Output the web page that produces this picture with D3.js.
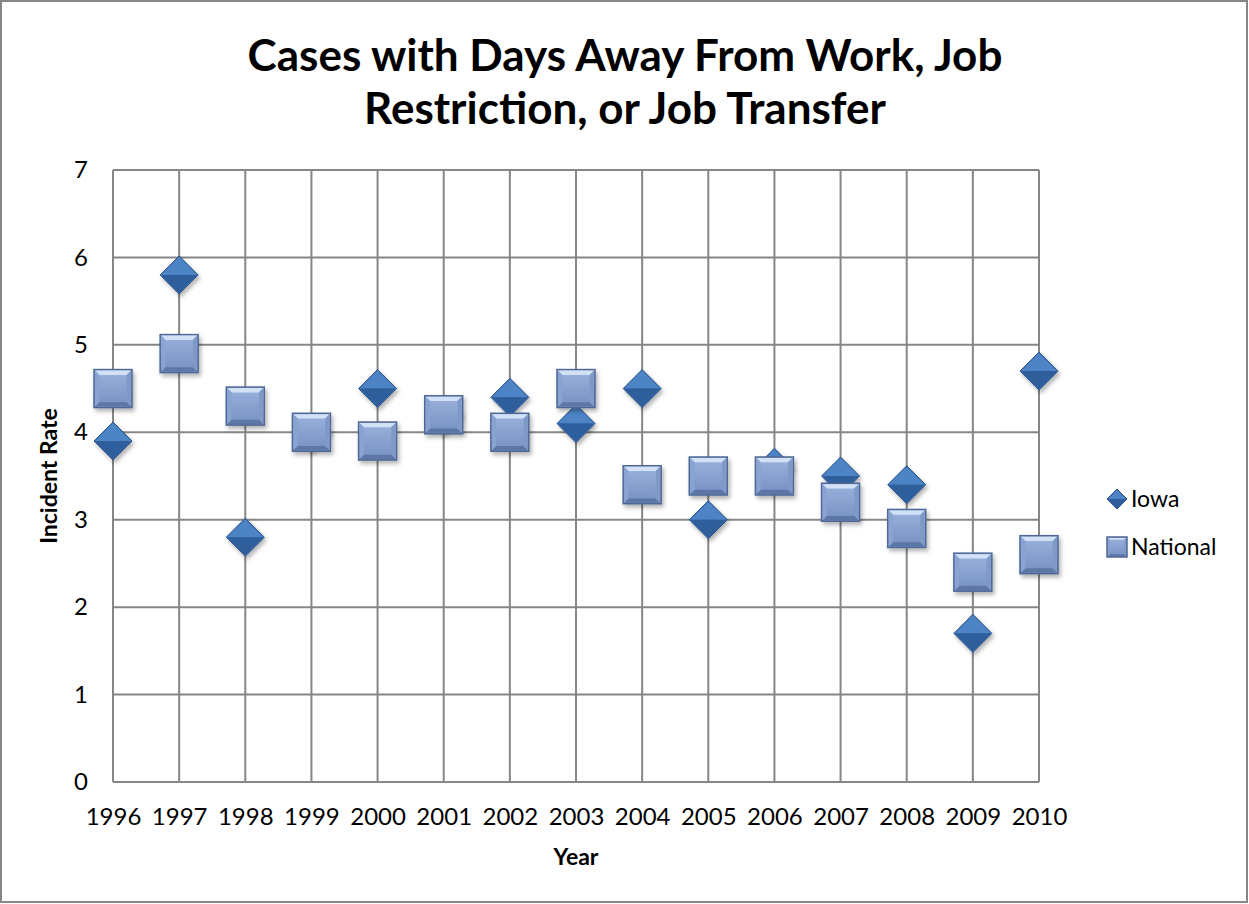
<!DOCTYPE html>
<html><head><meta charset="utf-8">
<script src="https://cdn.jsdelivr.net/npm/d3@7"></script>
<style>body{margin:0;background:#fff}svg{display:block}text{font-family:Lato,"Open Sans",sans-serif}</style>
</head><body>
<script>
const years = [1996,1997,1998,1999,2000,2001,2002,2003,2004,2005,2006,2007,2008,2009,2010];
const iowa = [3.9,5.8,2.8,4.0,4.5,4.2,4.4,4.1,4.5,3.0,3.6,3.5,3.4,1.7,4.7];
const national = [4.5,4.9,4.3,4.0,3.9,4.2,4.0,4.5,3.4,3.5,3.5,3.2,2.9,2.4,2.6];
const yTicks = [0,1,2,3,4,5,6,7];
const titleLines = ["Cases with Days Away From Work, Job","Restriction, or Job Transfer"];

const W=1249,H=904;
const svg=d3.select("body").append("svg").attr("width",W).attr("height",H);
const defs=svg.append("defs");
const f=defs.append("filter").attr("id","sh").attr("x","-30%").attr("y","-30%").attr("width","160%").attr("height","160%");
f.append("feDropShadow").attr("dx",2).attr("dy",3).attr("stdDeviation",2).attr("flood-color","#000").attr("flood-opacity",0.3);
const gs=defs.append("linearGradient").attr("id","sqg").attr("x1",0).attr("y1",0).attr("x2",0).attr("y2",1);
gs.append("stop").attr("offset","0").attr("stop-color","#9bb3dc");
gs.append("stop").attr("offset","1").attr("stop-color","#7590c2");

svg.append("rect").attr("x",1).attr("y",1).attr("width",W-3).attr("height",H-3).attr("fill","#fff").attr("stroke","#868686").attr("stroke-width",2);

const x=d3.scalePoint().domain(years).range([113,1039]);
const y=d3.scaleLinear().domain([0,7]).range([782,170]);

// grid
const g=svg.append("g");
g.selectAll("line.h").data(yTicks).join("line").attr("x1",113).attr("x2",1039).attr("y1",d=>y(d)).attr("y2",d=>y(d)).attr("stroke","#868686").attr("stroke-width",2);
g.selectAll("line.v").data(years).join("line").attr("x1",d=>x(d)).attr("x2",d=>x(d)).attr("y1",y(7)).attr("y2",y(0)).attr("stroke","#868686").attr("stroke-width",2);

// axes via d3
const ya=svg.append("g").attr("transform","translate(113,0)").call(d3.axisLeft(y).tickValues(yTicks).tickSize(0).tickPadding(25).tickFormat(d3.format("d")));
ya.select(".domain").remove();
ya.selectAll("text").attr("font-size",24).attr("font-family","Lato").attr("fill","#000");
const xa=svg.append("g").attr("transform","translate(0,782)").call(d3.axisBottom(x).tickSize(0).tickPadding(26).tickFormat(d3.format("d")));
xa.select(".domain").remove();
xa.selectAll("text").attr("font-size",24).attr("font-family","Lato").attr("fill","#000");

// titles
svg.append("g").selectAll("text").data(titleLines).join("text").attr("x",625).attr("y",(d,i)=>71+i*53).attr("text-anchor","middle").attr("font-weight","bold").attr("font-size",44).text(d=>d);
svg.append("text").attr("x",576).attr("y",865).attr("text-anchor","middle").attr("font-weight","bold").attr("font-size",23).text("Year");
svg.append("text").attr("transform","translate(57,476) rotate(-90)").attr("text-anchor","middle").attr("font-weight","bold").attr("font-size",23).text("Incident Rate");

function diamond(sel,s){
  sel.append("path").attr("d",`M0,${-s}L${s},0L0,${s}L${-s},0Z`).attr("fill","#3b6fb0").attr("stroke","#2a5288").attr("stroke-width",1);
  sel.append("path").attr("d",`M${-s+1},0L0,${-s+1}L${s-1},0Z`).attr("fill","#4d84c6");
  sel.append("path").attr("d",`M${-s+1},0L0,${s-1}L${s-1},0Z`).attr("fill","#2e5e9c");
}
function square(sel,s){
  const b=s*0.28;
  sel.append("rect").attr("x",-s).attr("y",-s).attr("width",2*s).attr("height",2*s).attr("fill","url(#sqg)").attr("stroke","#4d6794").attr("stroke-width",1.5);
  sel.append("path").attr("d",`M${-s+1},${-s+1}L${s-1},${-s+1}L${s-b},${-s+b}L${-s+b},${-s+b}Z`).attr("fill","#d2e1f5");
  sel.append("path").attr("d",`M${-s+1},${s-1}L${s-1},${s-1}L${s-b},${s-b}L${-s+b},${s-b}Z`).attr("fill","#5c76a6");
  sel.append("path").attr("d",`M${-s+1},${-s+1}L${-s+b},${-s+b}L${-s+b},${s-b}L${-s+1},${s-1}Z`).attr("fill","#89a3d2");
  sel.append("path").attr("d",`M${s-1},${-s+1}L${s-b},${-s+b}L${s-b},${s-b}L${s-1},${s-1}Z`).attr("fill","#7f99c8");
}

const di=svg.append("g").selectAll("g").data(years.map((yr,i)=>({yr,v:iowa[i]}))).join("g")
  .attr("transform",d=>`translate(${x(d.yr)},${y(d.v)})`).attr("filter","url(#sh)");
di.each(function(){diamond(d3.select(this),19);});
const sq=svg.append("g").selectAll("g").data(years.map((yr,i)=>({yr,v:national[i]}))).join("g")
  .attr("transform",d=>`translate(${x(d.yr)},${y(d.v)})`).attr("filter","url(#sh)");
sq.each(function(){square(d3.select(this),19);});

// legend
const lg=svg.append("g");
const l1=lg.append("g").attr("transform","translate(1117,499)"); diamond(l1,10);
const l2=lg.append("g").attr("transform","translate(1117,547)"); square(l2,10);
lg.append("text").attr("x",1131).attr("y",507).attr("font-size",23).text("Iowa");
lg.append("text").attr("x",1131).attr("y",555).attr("font-size",23).text("National");
</script>
</body></html>
